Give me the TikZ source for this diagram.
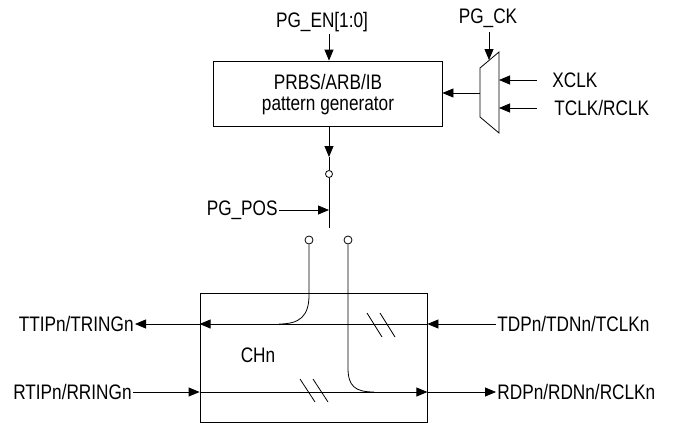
\documentclass[tikz,border=0pt]{standalone}
\usepackage{fontspec}
\setmainfont{Liberation Sans}[FakeStretch=0.82]
\usetikzlibrary{arrows.meta}
\begin{document}
\begin{tikzpicture}[x=1pt,y=-1pt,line width=0.8pt,
  arr/.style={-{Triangle[length=11pt,width=9pt]}},
  lbl/.style={inner sep=1pt,font=\fontsize{21}{24}\selectfont},
  blk/.style={draw,inner sep=0pt},
  port/.style={circle,draw,inner sep=0pt,minimum size=8pt}]
\useasboundingbox (0,0) rectangle (673,423);
% pattern generator
\node[blk,minimum width=229pt,minimum height=65pt] (gen) at (327.5,93.5) {};
\node[lbl] (g1) at (328,82) {PRBS/ARB/IB};
\node[lbl] (g2) at (328,106) {pattern generator};
\node[lbl] (pgen) at (322,22) {PG\_EN[1:0]};
\coordinate (pgenend) at (329,34);
\draw[arr] (pgenend) -- (gen.north -| pgenend);
% mux
\coordinate (m1) at (480,68);
\coordinate (m2) at (499,52);
\coordinate (m3) at (499,133);
\coordinate (m4) at (480,117);
\draw (m1) -- (m2) -- (m3) -- (m4) -- cycle;
\node[lbl] (pgck) at (488,18) {PG\_CK};
\coordinate (pgckend) at (489,32);
\coordinate (pgcktip) at (489,60);
\draw[arr] (pgckend) -- (pgcktip);
\node[lbl,anchor=west] (xclk) at (551,80) {XCLK};
\node[lbl,anchor=west] (tclk) at (553,108) {TCLK/RCLK};
\coordinate (xs) at (537,80);
\coordinate (ts) at (537,108);
\draw[arr] (xs) -- (m2 |- xs);
\draw[arr] (ts) -- (m2 |- ts);
\coordinate (mo) at (480,93);
\draw[arr] (mo) -- (gen.east |- mo);
% switch
\node[port,minimum size=7pt] (c0) at (329,174) {};
\coordinate (gtip) at (329,157);
\draw[arr] (gen.south -| c0) -- (gtip);
\draw (gtip) -- (c0.north);
\coordinate (sw) at (329,228);
\draw (c0.south) -- (sw);
\node[lbl,anchor=east] (pgpos) at (279,210) {PG\_POS};
\coordinate (pgt) at (329,210);
\draw[arr] (pgpos.east) -- (pgt);
\node[port] (c1) at (309,240) {};
\node[port] (c2) at (348,240) {};
% channel box
\node[blk,minimum width=227pt,minimum height=129pt] (ch) at (313.5,357.5) {};
\node[lbl] (chn) at (258,355) {CHn};
% transmit path
\node[lbl,anchor=west] (tdp) at (496,324) {TDPn/TDNn/TCLKn};
\node[lbl,anchor=east] (ttip) at (135,324) {TTIPn/TRINGn};
\draw[arr] (tdp.west) -- (ch.east |- tdp.west);
\draw[arr] (ch.east |- tdp.west) -- (ch.west |- tdp.west);
\draw[arr] (ch.west |- tdp.west) -- (ttip.east);
\coordinate (t1) at (309,295);
\coordinate (t2) at (279,324);
\draw (c1.south) -- (t1) .. controls (309,316) and (300,324) .. (t2);
\draw (367,313) -- (382,337) (380,313) -- (395,337);
% receive path
\node[lbl,anchor=east] (rtip) at (133,392) {RTIPn/RRINGn};
\node[lbl,anchor=west] (rdp) at (496,392) {RDPn/RDNn/RCLKn};
\draw[arr] (rtip.east) -- (ch.west |- rtip.east);
\draw[arr] (ch.west |- rtip.east) -- (ch.east |- rtip.east);
\draw[arr] (ch.east |- rtip.east) -- (rdp.west);
\coordinate (r1) at (348,368);
\coordinate (r2) at (374,392);
\draw (c2.south) -- (r1) .. controls (348,386) and (355,392) .. (r2);
\draw (300,379) -- (315,402) (313,379) -- (328,402);
\end{tikzpicture}
\end{document}
